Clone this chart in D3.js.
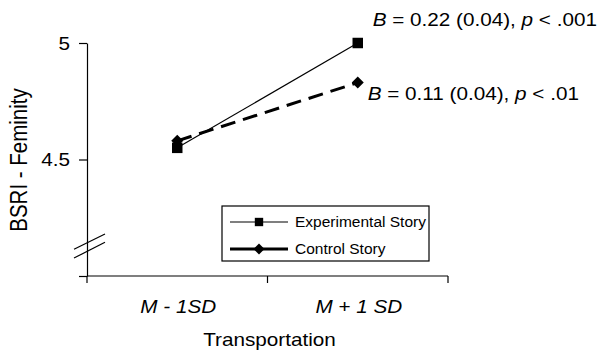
<!DOCTYPE html>
<html>
<head>
<meta charset="utf-8">
<script src="https://cdn.jsdelivr.net/npm/d3@7"></script>
<style>
  body { margin: 0; background: #fff; }
  svg { display: block; font-family: "Liberation Sans", Arial, sans-serif; }
</style>
</head>
<body>
<div id="chart"></div>
<script>
// data
const categories = ["M - 1SD", "M + 1 SD"]
const experimental = [4.55, 5.0]
const control = [4.58, 4.83]
const seriesNames = ["Experimental Story", "Control Story"]
const annotations = ["B = 0.22 (0.04), p < .001", "B = 0.11 (0.04), p < .01"]
const yTicks = [4, 4.5, 5]
const yTickLabels = ["", "4.5", "5"]

const width = 602, height = 352
const marginLeft = 87, marginRight = 154, marginTop = 43, marginBottom = 76
const sx = 1.15 // the source text is a bit wide

const x = d3.scaleBand(categories, [marginLeft, width - marginRight])
const y = d3.scaleLinear([4, 5], [height - marginBottom, marginTop])

const svg = d3.select("#chart").append("svg")
	.attr("width", width)
	.attr("height", height)
	.attr("viewBox", [0, 0, width, height])

// place a text with the horizontal stretch
const put = (sel, px, py) => sel.attr("transform", `translate(${px},${py}) scale(${sx},1)`)

// y axis
svg.append("g")
	.attr("transform", `translate(${marginLeft},0)`)
	.call(d3.axisLeft(y).tickValues(yTicks).tickFormat((d, i) => yTickLabels[i]).tickSize(8).tickSizeOuter(0))
	.call(g => g.select(".domain").attr("stroke-width", 1.2))
	.call(g => g.selectAll(".tick line").attr("stroke-width", 1.2))
	.call(g => g.selectAll("text")
		.attr("x", null).attr("dy", "0.34em")
		.attr("transform", `translate(-17,0) scale(${sx},1)`)
		.attr("font-size", 18).attr("font-family", null).attr("fill", "#000"))

// x axis, ticks on band edges
const xAxis = svg.append("g")
	.attr("transform", `translate(0,${height - marginBottom})`)
xAxis.append("line")
	.attr("x1", marginLeft).attr("x2", width - marginRight)
	.attr("stroke", "#000").attr("stroke-width", 1.2)
xAxis.selectAll(".edge")
	.data([categories[0], ...categories])
	.join("line")
	.attr("x1", (d, i) => i === 0 ? x(d) : x(d) + x.bandwidth())
	.attr("x2", (d, i) => i === 0 ? x(d) : x(d) + x.bandwidth())
	.attr("y2", 7)
	.attr("stroke", "#000").attr("stroke-width", 1.2)
xAxis.selectAll(".cat")
	.data(categories)
	.join("text")
	.call(t => t.each(function(d) { put(d3.select(this), x(d) + x.bandwidth() / 2 + 1, 37) }))
	.attr("text-anchor", "middle")
	.attr("font-size", 18)
	.attr("font-style", "italic")
	.text(d => d)

// axis break
const brk = svg.append("g").attr("stroke", "#000").attr("stroke-width", 1.2)
brk.append("line").attr("x1", marginLeft - 13).attr("y1", y(4.115)).attr("x2", marginLeft + 18).attr("y2", y(4.18))
brk.append("line").attr("x1", marginLeft - 13).attr("y1", y(4.077)).attr("x2", marginLeft + 18).attr("y2", y(4.145))

// axis titles
svg.append("text")
	.call(put, x(categories[0]) + x.bandwidth() + 2, 346)
	.attr("text-anchor", "middle")
	.attr("font-size", 18)
	.text("Transportation")

svg.append("text")
	.attr("transform", `translate(27,160) rotate(-90) scale(1,${sx})`)
	.attr("text-anchor", "middle")
	.attr("font-size", 20.5)
	.text("BSRI - Feminity")

// lines
const cx = d => x(d) + x.bandwidth() / 2
const line = d3.line().x(d => cx(d[0])).y(d => y(d[1]))

svg.append("path")
	.attr("d", line(d3.zip(categories, experimental)))
	.attr("fill", "none").attr("stroke", "#000").attr("stroke-width", 1.2)
svg.append("path")
	.attr("d", line(d3.zip(categories, control)))
	.attr("fill", "none").attr("stroke", "#000").attr("stroke-width", 3)
	.attr("stroke-dasharray", "15,8")

const square = d3.symbol(d3.symbolSquare, 110)
const diamond = (s) => `M0,${-s}L${s},0L0,${s}L${-s},0Z`

svg.append("g").selectAll("path")
	.data(control)
	.join("path")
	.attr("transform", (d, i) => `translate(${cx(categories[i])},${y(d)})`)
	.attr("d", diamond(6))
svg.append("g").selectAll("path")
	.data(experimental)
	.join("path")
	.attr("transform", (d, i) => `translate(${cx(categories[i])},${y(d)})`)
	.attr("d", square())

// annotations, B and p in italics
const italicB = (t, s) => {
	const m = s.match(/^B(.*), p(.*)$/)
	t.append("tspan").attr("font-style", "italic").text("B")
	t.append("tspan").text(m[1] + ", ")
	t.append("tspan").attr("font-style", "italic").text("p")
	t.append("tspan").text(m[2])
}
svg.append("text")
	.call(put, cx(categories[1]) + 15, y(experimental[1]) - 17)
	.attr("font-size", 18)
	.call(t => italicB(t, annotations[0]))
svg.append("text")
	.call(put, cx(categories[1]) + 10, y(control[1]) + 17)
	.attr("font-size", 18)
	.call(t => italicB(t, annotations[1]))

// legend
const legend = svg.append("g").attr("transform", "translate(222,206)")
legend.append("rect")
	.attr("width", 207).attr("height", 55)
	.attr("fill", "#fff").attr("stroke", "#000").attr("stroke-width", 1.2)
const items = legend.selectAll(".item")
	.data(seriesNames)
	.join("g")
	.attr("transform", (d, i) => `translate(0,${16 + i * 27})`)
items.append("line")
	.attr("x1", 8).attr("x2", 66)
	.attr("stroke", "#000")
	.attr("stroke-width", (d, i) => i === 0 ? 1.2 : 3)
items.append("path")
	.attr("transform", "translate(37,0)")
	.attr("d", (d, i) => i === 0 ? d3.symbol(d3.symbolSquare, 70)() : diamond(5.5))
items.append("text")
	.attr("x", 73).attr("dy", "0.35em")
	.attr("font-size", 15.5)
	.text(d => d)
</script>
</body>
</html>
